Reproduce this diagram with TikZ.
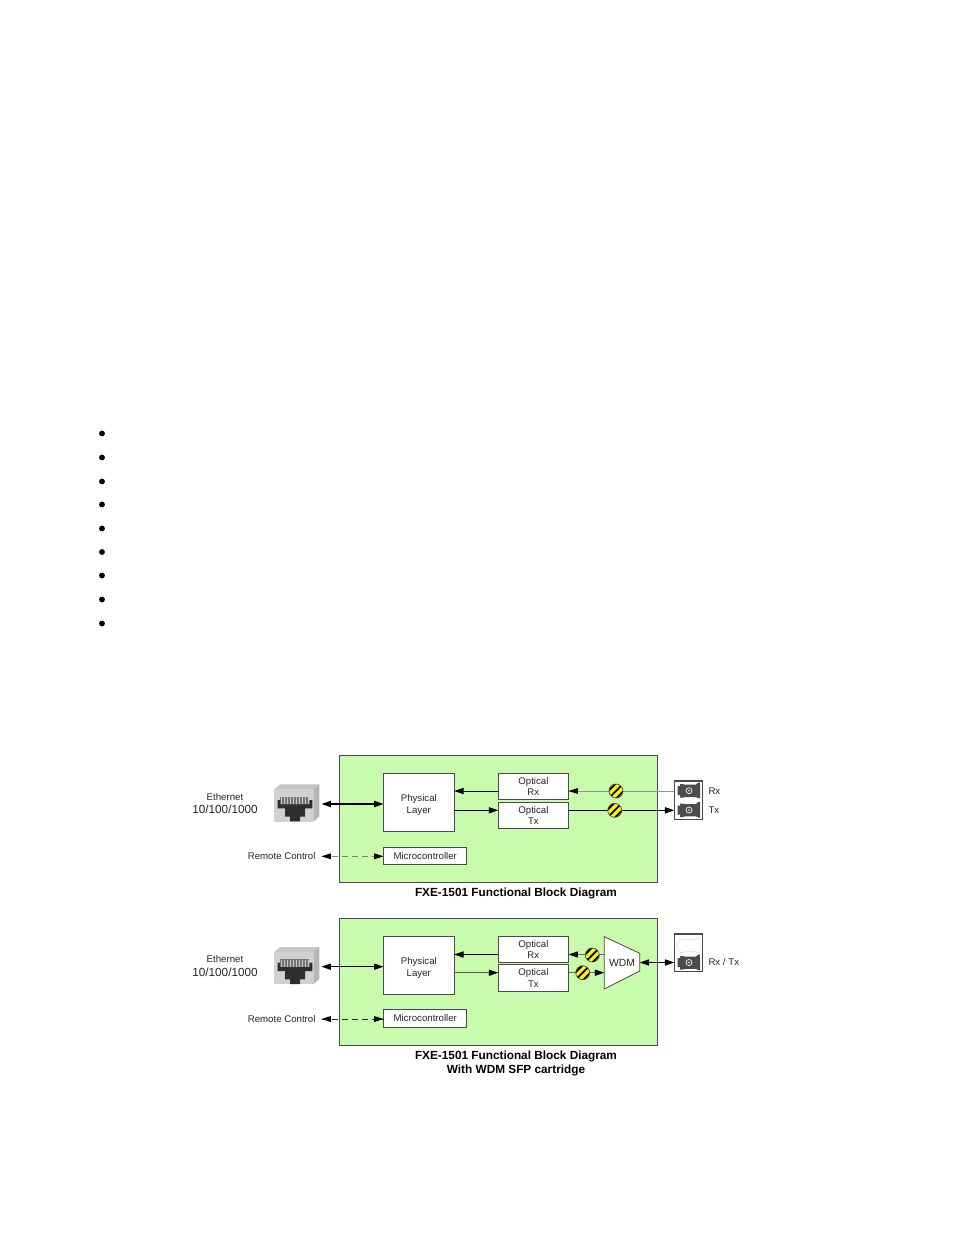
\documentclass[tikz,border=0pt]{standalone}
\usepackage{fontspec}
\setmainfont{Liberation Sans}
\usetikzlibrary{arrows.meta}
\definecolor{panelgreen}{HTML}{C9FBAC}
\definecolor{edgegray}{HTML}{4A4A4A}
\definecolor{inkgray}{HTML}{262626}
\definecolor{hatchyellow}{HTML}{F6EE1E}
\definecolor{connDark}{HTML}{4C4C4C}
\tikzset{
  x=0.75pt,y=-0.75pt,
  every node/.append style={outer sep=0pt},
  panel/.style={draw=edgegray,line width=0.8pt,fill=panelgreen},
  whitebox/.style={draw=edgegray,line width=0.75pt,fill=white,inner sep=0pt,text=inkgray,align=center,font=\fontsize{7.25}{8.9}\selectfont},
  lbl/.style={inner sep=0pt,text=inkgray,font=\fontsize{7.25}{9}\selectfont},
  speed/.style={inner sep=0pt,text=inkgray,font=\fontsize{8.8}{11}\selectfont},
  caption/.style={inner sep=0pt,text=black,font=\fontsize{8.85}{10.5}\selectfont\bfseries,align=center},
  tipA/.tip={Triangle[length=7pt,width=4.6pt,fill=black,color=black]},
  link/.style={line width=0.75pt,black,{tipA}-{tipA}},
  oneway/.style={line width=0.75pt,black,-{tipA}},
  dashlink/.style={line width=0.75pt,dash pattern=on 4.5pt off 3pt},
  hatch/.style={circle,draw=edgegray,line width=0.5pt,fill=hatchyellow,minimum size=10.5pt,inner sep=0pt,
    path picture={\begin{scope}[shift={(path picture bounding box.center)}]
      \foreach \d in {-7.6,-3.8,0,3.8,7.6}{\draw[black,line width=1.3pt] (-12+\d,12+\d)--(12+\d,-12+\d);}
    \end{scope}}},
  bullet/.style={circle,fill=black,minimum size=4.4pt,inner sep=0pt},
  rjjack/.pic={
    \fill[gray!45] (0,5)--(6,0)--(45,0)--(39,5)--cycle;
    \fill[gray!58] (39,5)--(45,0)--(45,32)--(39,37.4)--cycle;
    \fill[gray!36] (0,5) rectangle (39,37.4);
    \fill[black!55] (5.7,12.3) rectangle (35,21);
    \foreach \s in {7,10,13,16,19,22,25,28,31,34}{\fill[black!22] (\s-0.45,13) rectangle (\s+0.45,20);}
    \fill[black!82] (3.3,15.7)--(5.7,15.7)--(5.7,20)--(35,20)--(35,15.7)--(38,15.7)--(38,24)--(30.7,24)--(30.7,32.3)--(25.7,32.3)--(25.7,37)--(15.7,37)--(15.7,32.3)--(10.7,32.3)--(10.7,24)--(3.3,24)--cycle;
  },
  scdark/.pic={
    \fill[connDark] (-11.5,-4.5)--(-9,-4.5)--(-9,-6.5)--(-6,-6.5)--(-4,-6)--(7,-6)--(9,-8)--(11,-8)--(11,7.5)--(9,7.5)--(7,6.3)--(-4,6.3)--(-6,7)--(-9,7)--(-9,4.5)--(-11.5,4.5)--cycle;
    \draw[white,line width=0.5pt] (0,0) circle (3*0.75pt);
    \fill[white] (0,0) circle (0.8*0.75pt);
  },
  scghost/.pic={
    \draw[gray!22,line width=0.6pt,fill=white] (-11.5,-4.5)--(-9,-4.5)--(-9,-6.5)--(-6,-6.5)--(-4,-6)--(7,-6)--(9,-8)--(11,-8)--(11,7.5)--(9,7.5)--(7,6.3)--(-4,6.3)--(-6,7)--(-9,7)--(-9,4.5)--(-11.5,4.5)--cycle;
  },
  opticbox/.style={whitebox,minimum width=52.8pt,minimum height=20pt,anchor=north west,font=\fontsize{7.25}{8.7}\selectfont},
  physbox/.style={whitebox,minimum width=53pt,minimum height=43.5pt,anchor=north west},
  mcubox/.style={whitebox,minimum width=62.6pt,minimum height=13pt,anchor=north west},
  connbox/.style={draw=edgegray,line width=0.8pt,fill=white,minimum width=21.4pt,inner sep=0pt,anchor=north west},
  panelbox/.style={panel,minimum width=238.5pt,minimum height=95.2pt,inner sep=0pt,anchor=north west},
}
\begin{document}
\begin{tikzpicture}
\useasboundingbox[fill=white] (0,0) rectangle (954,1235);

% bullets
\foreach \n/\yy in {1/433.5,2/457.5,3/481.5,4/504.5,5/528.5,6/552,7/575.5,8/599.5,9/623.5}
  \node[bullet] (bullet\n) at (102,\yy) {};

% ---------- top diagram
\node[panelbox] (panelA) at (339.3,755.7) {};
\node[physbox] (physA) at (383.5,773.2) {\rule{0pt}{9pt}Physical\\Layer};
\node[opticbox] (rxA) at (498.2,773.2) {Optical\\Rx};
\node[opticbox] (txA) at (498.2,802.2) {Optical\\Tx};
\node[mcubox] (mcuA) at (383.5,847.4) {\raisebox{0.6pt}{Microcontroller}};
\node[connbox,minimum height=28.7pt] (connA) at (674.3,781) {};
\path (274.3,784.3) pic {rjjack};
\coordinate (rjA) at (321.5,804);
\coordinate (remA) at (321.5,856.3);
\coordinate (yRxA) at (0,791);
\coordinate (yTxA) at (0,810.3);
\draw[link,line width=1pt] (rjA) -- (physA.west |- rjA);
\draw[dashlink,gray] (remA) -- (mcuA.west |- remA);
\fill[black] (remA) -- ++(9.3,-3) -- ++(0,6) -- cycle;
\fill[black] (mcuA.west |- remA) -- ++(-9.3,-3) -- ++(0,6) -- cycle;
\draw[oneway] (rxA.west |- yRxA) -- (physA.east |- yRxA);
\draw[oneway] (physA.east |- yTxA) -- (txA.west |- yTxA);
\draw[line width=0.5pt,gray!85] (connA.west |- yRxA) -- (rxA.east |- yRxA);
\fill[black] (rxA.east |- yRxA) -- ++(9.3,-3) -- ++(0,6) -- cycle;
\draw[oneway,line width=0.9pt] (txA.east |- yTxA) -- (connA.west |- yTxA);
\node[hatch] (fibRxA) at (616,791) {};
\node[hatch] (fibTxA) at (614.7,810.3) {};
\path (689,790.7) pic {scdark};
\path (689,810) pic {scdark};
\node[lbl,anchor=west] (lRxA) at (708.5,791) {Rx};
\node[lbl,anchor=west] (lTxA) at (708.5,810) {Tx};
\node[lbl] (ethA) at (225,797) {Ethernet};
\node[speed] (spdA) at (225,809.5) {10/100/1000};
\node[lbl,anchor=east] (remTxtA) at (315.5,856.3) {Remote Control};
\node[caption] (capA) at (516,893.4) {FXE-1501 Functional Block Diagram};

% ---------- bottom diagram
\node[panelbox] (panelB) at (339.3,918.4) {};
\node[physbox] (physB) at (383.5,936.1) {\rule{0pt}{9pt}Physical\\Layer};
\node[opticbox] (rxB) at (498.2,936.1) {Optical\\Rx};
\node[opticbox] (txB) at (498.2,964.9) {Optical\\Tx};
\node[mcubox] (mcuB) at (383.5,1009.9) {\raisebox{0.6pt}{Microcontroller}};
\node[connbox,minimum height=28.3pt] (connB) at (674.3,934) {};
\path (274.3,947) pic {rjjack};
\coordinate (rjB) at (321.5,966.7);
\coordinate (remB) at (321.5,1019);
\coordinate (yRxB) at (0,954.5);
\coordinate (yTxB) at (0,972.7);
\path[draw=edgegray,line width=0.6pt,fill=white] (604.3,936.7)--(639.7,953.3)--(639.7,971)--(604.3,989)--cycle;
\coordinate (wdmW) at (604.3,962.5);
\coordinate (wdmE) at (639.7,962.5);
\node[inner sep=0pt,text=inkgray,font=\fontsize{7.8}{9}\selectfont] (wdm) at (622,962.5) {WDM};
\draw[link] (rjB) -- (physB.west |- rjB);
\draw[dashlink,black!85] (remB) -- (mcuB.west |- remB);
\fill[black] (remB) -- ++(9.3,-3) -- ++(0,6) -- cycle;
\fill[black] (mcuB.west |- remB) -- ++(-9.3,-3) -- ++(0,6) -- cycle;
\draw[oneway] (rxB.west |- yRxB) -- (physB.east |- yRxB);
\draw[oneway,draw=black!65] (physB.east |- yTxB) -- (txB.west |- yTxB);
\draw[oneway,draw=black!60] (wdmW |- yRxB) -- (rxB.east |- yRxB);
\draw[oneway,draw=black!60] (txB.east |- yTxB) -- (wdmW |- yTxB);
\draw[link] (wdmE) -- (connB.west |- wdmE);
\node[hatch] (fibRxB) at (592.3,955) {};
\node[hatch] (fibTxB) at (582.7,972.7) {};
\path (689,945.5) pic {scghost};
\path (689,962.5) pic {scdark};
\node[lbl,anchor=west] (lRxTx) at (708.5,961.8) {Rx / Tx};
\node[lbl] (ethB) at (225,959) {Ethernet};
\node[speed] (spdB) at (225,972) {10/100/1000};
\node[lbl,anchor=east] (remTxtB) at (315.5,1019) {Remote Control};
\node[caption] (capB) at (516,1056.4) {FXE-1501 Functional Block Diagram};
\node[caption] (capB2) at (516,1070.4) {With WDM SFP cartridge};
\end{tikzpicture}
\end{document}
